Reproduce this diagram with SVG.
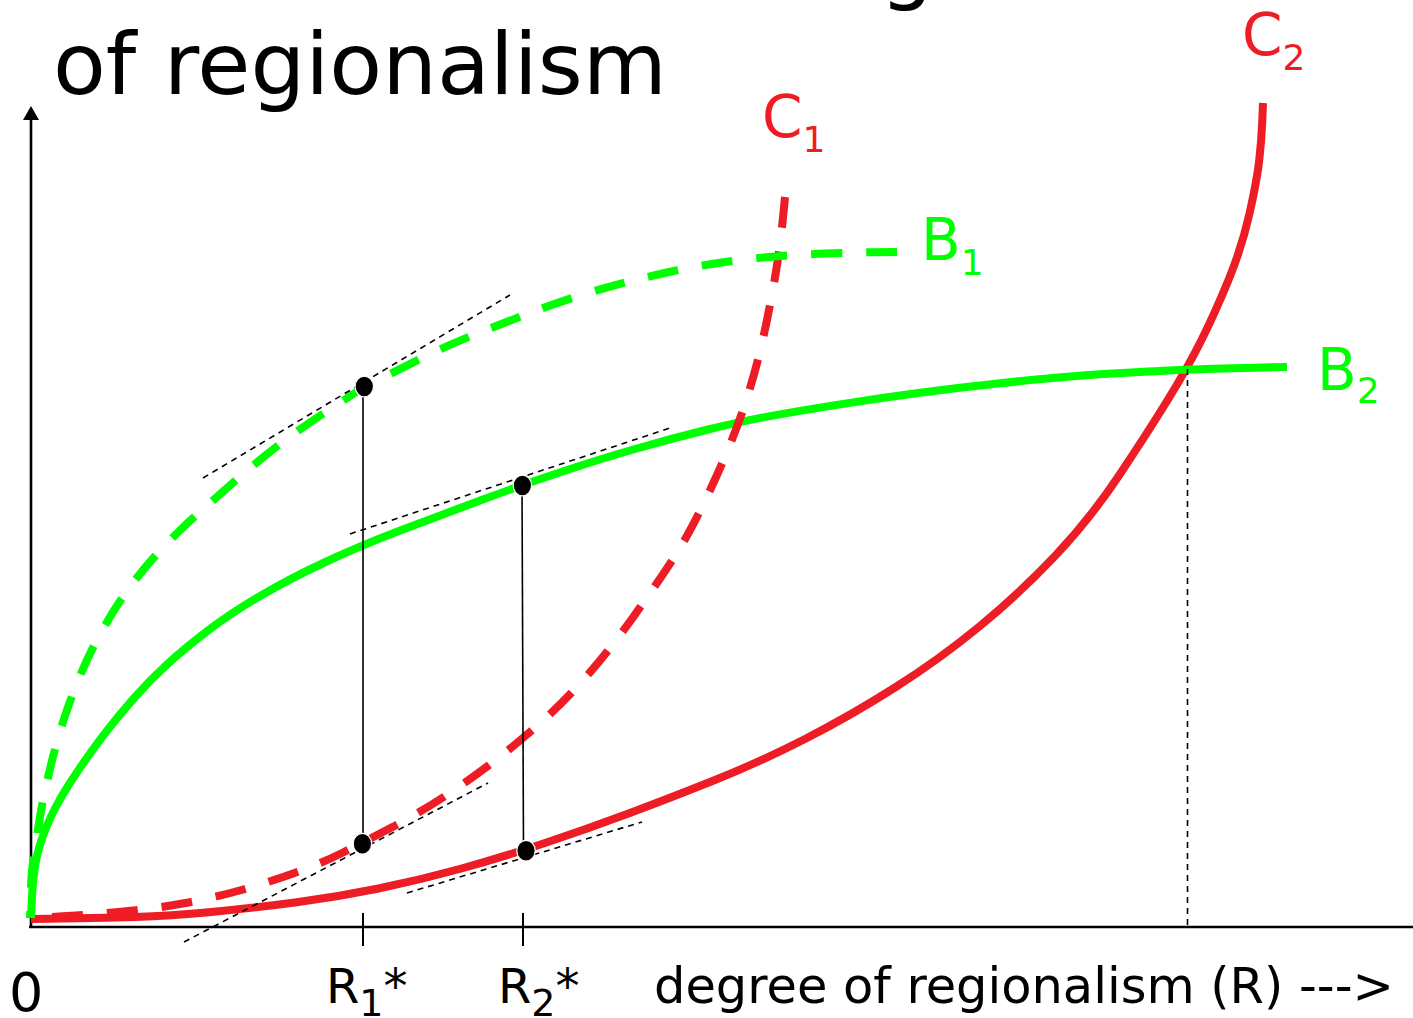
<svg xmlns="http://www.w3.org/2000/svg" width="1413" height="1018" viewBox="0 0 1413 1018">
<style>
text{font-family:"DejaVu Sans",Verdana,sans-serif}
.red{fill:#ee1c25}
.grn{fill:#00ff00}
.blk{fill:#000}
.curve{fill:none;stroke-width:8;stroke-linejoin:round}
.cr{stroke:#ee1c25}
.cg{stroke:#00ff00}
.dash{stroke-dasharray:31 24}
.tan{fill:none;stroke:#000;stroke-width:1.6;stroke-dasharray:6 5}
.vl{fill:none;stroke:#000;stroke-width:1.6}
.axis{fill:none;stroke:#000;stroke-width:2.6}
.dot{fill:#000;stroke:#fff;stroke-width:1.2}
</style>
<defs>
<marker id="arr" viewBox="0 0 14 16" markerWidth="14" markerHeight="16" refX="1" refY="8" orient="auto" markerUnits="userSpaceOnUse">
<path d="M0,0 L14,8 L0,16 z" fill="#000"/>
</marker>
</defs>
<rect width="1413" height="1018" fill="#fff"/>

<g id="title">
<text x="880" y="-7" font-size="85" class="blk">g</text>
<text x="53" y="94" font-size="85" class="blk" textLength="614" lengthAdjust="spacingAndGlyphs">of regionalism</text>
</g>

<g id="axes">
<line class="axis" x1="29" y1="927" x2="1413" y2="927"/>
<line class="axis" x1="31" y1="928" x2="31" y2="119" marker-end="url(#arr)"/>
<line class="axis" x1="363" y1="913" x2="363" y2="946" style="stroke-width:2"/>
<line class="axis" x1="523" y1="913" x2="523" y2="946" style="stroke-width:2"/>
</g>

<g id="connectors">
<path id="C2" class="curve cr" d="M31,919 Q100,918 135,917 Q170,916 211.5,912 Q253,908 295,902.5 Q337,897 378.5,888.5 Q420,880 461.5,868.5 Q503,857 545,843 Q587,829 628.5,813.5 Q670,798 715,780 Q760,762 805,739 Q850,716 895,687.5 Q940,659 980,626 Q1020,593 1055,556 Q1090,519 1119,475.5 Q1148,432 1168,399.5 Q1188,367 1201.5,340 Q1215,313 1228.5,280 Q1242,247 1249.5,213.5 Q1257,180 1259.25,160 Q1261.5,140 1262.25,121.5 L1263,103"/>
<path id="B2" class="curve cg" d="M31,918 Q32,893 33,882.5 Q34,872 35.5,863.5 Q37,855 39.5,846.5 Q42,838 46,828 Q50,818 55.5,807.5 Q61,797 68,786 Q75,775 85,760.5 Q95,746 107.5,730 Q120,714 135,697 Q150,680 167.5,664 Q185,648 208,630.5 Q231,613 261,595.5 Q291,578 326.5,561.5 Q362,545 401.5,530 Q441,515 481.5,500 Q522,485 561,472 Q600,459 635,449 Q670,439 705,430.25 Q740,421.5 770,416.1 Q800,410.7 840,404.35 Q880,398 920,392.75 Q960,387.5 1000,383.25 Q1040,379 1070,376.5 Q1100,374 1143.5,371.75 Q1187,369.5 1213.5,368.75 Q1240,368 1263.5,367.5 L1287,367"/>
<path id="C1" class="curve cr dash" d="M785,197 L783.5,212.5 Q782,228 780,244 Q778,260 775,277.5 Q772,295 767.5,317.5 Q763,340 757,363.25 Q751,386.5 743.25,409.25 Q735.5,432 724.75,457.25 Q714,482.5 701.5,508 Q689,533.5 676.5,553.5 Q664,573.5 637,611.75 Q610,650 585,678 Q560,706 535.25,727.5 Q510.5,749 488.5,765.5 Q466.5,782 443.25,797.25 Q420,812.5 391,827.75 Q362,843 341.5,853.25 Q321,863.5 294.5,873 Q268,882.5 240.5,890.25 Q213,898 185.5,903 Q158,908 130.5,910.75 Q103,913.5 75.5,915.5 Q48,917.5 31,918"/>
<path id="B1" class="curve cg dash" d="M897,252 L873.5,252.25 Q850,252.5 825,253.5 Q800,254.5 775,256.5 Q750,258.5 725,262 Q700,265.5 675,270.75 Q650,276 625,282.5 Q600,289 573.75,297.5 Q547.5,306 522.5,315.75 Q497.5,325.5 472.25,335.5 Q447,345.5 421,358.5 Q395,371.5 379.5,379.25 Q364,387 354.5,393.25 Q345,399.5 323,413.75 Q301,428 278.5,445.25 Q256,462.5 235.25,480.75 Q214.5,499 202.25,509.75 Q190,520.5 177.5,532.75 Q165,545 152.5,559 Q140,573 127.5,590.3 Q115,607.6 102.5,629.8 Q90,652 80,675.8 Q70,699.6 62.5,723.6 Q55,747.6 50,768.8 Q45,790 42.5,803 Q40,816 38,829.5 Q36,843 34.5,852.5 Q33,862 32,871 Q31,880 30,918"/>
<line class="tan" x1="203" y1="478" x2="510" y2="295"/>
<line class="tan" x1="350" y1="534" x2="673" y2="427"/>
<line class="tan" x1="184" y1="942" x2="488" y2="783"/>
<line class="tan" x1="407" y1="893" x2="642" y2="822"/>
<line class="tan" x1="1187.5" y1="369" x2="1187.5" y2="925"/>
<line class="vl" x1="363" y1="386" x2="363" y2="843"/>
<line class="vl" x1="522" y1="485" x2="523.5" y2="851"/>
</g>

<g id="points">
<ellipse class="dot" cx="364.3" cy="386.5" rx="9.2" ry="10.4"/>
<ellipse class="dot" cx="522.4" cy="485.5" rx="9.2" ry="10.4"/>
<ellipse class="dot" cx="362.4" cy="843.8" rx="9.2" ry="10.4"/>
<ellipse class="dot" cx="526" cy="850.7" rx="9.2" ry="10.4"/>
</g>

<g id="label-C1"><text x="762" y="137" font-size="58" class="red">C<tspan font-size="36" dy="15">1</tspan></text></g>
<g id="label-C2"><text x="1242" y="55" font-size="58" class="red">C<tspan font-size="36" dy="15">2</tspan></text></g>
<g id="label-B1"><text x="921" y="260" font-size="58" class="grn">B<tspan font-size="36" dy="15">1</tspan></text></g>
<g id="label-B2"><text x="1317" y="390" font-size="58" class="grn">B<tspan font-size="36" dy="13">2</tspan></text></g>

<g id="axis-labels">
<text x="9" y="1011" font-size="54" class="blk">0</text>
<text x="326" y="1003" font-size="48" class="blk">R<tspan font-size="38" dy="13">1</tspan><tspan dy="-13">*</tspan></text>
<text x="498" y="1003" font-size="48" class="blk">R<tspan font-size="38" dy="13">2</tspan><tspan dy="-13">*</tspan></text>
<text x="654" y="1003" font-size="49" class="blk" textLength="740" lengthAdjust="spacingAndGlyphs">degree of regionalism (R) ---&gt;</text>
</g>
</svg>
